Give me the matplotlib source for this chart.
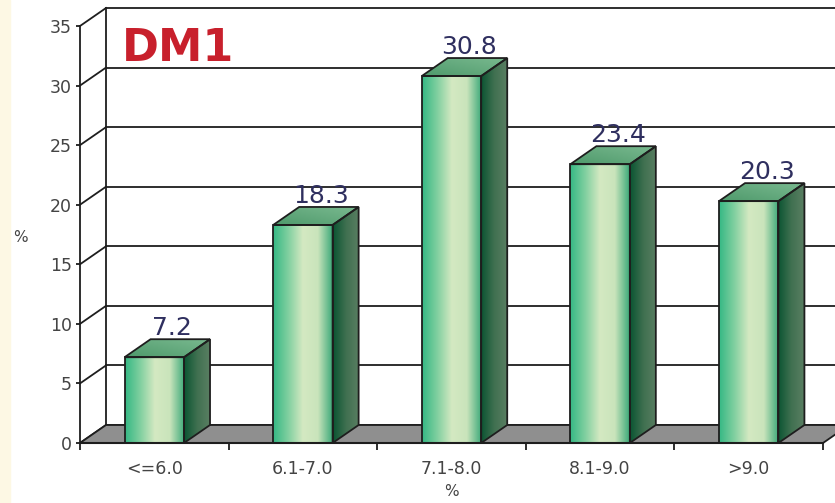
import matplotlib.pyplot as plt
import numpy as np
from matplotlib.colors import LinearSegmentedColormap
from matplotlib.patches import Polygon, Rectangle

categories = ["<=6.0", "6.1-7.0", "7.1-8.0", "8.1-9.0", ">9.0"]
values = [7.2, 18.3, 30.8, 23.4, 20.3]
yticks = [0, 5, 10, 15, 20, 25, 30, 35]
title = "DM1"

W, H = 835, 503
fig = plt.figure(figsize=(W / 100, H / 100), dpi=100)
fig.patch.set_facecolor("white")
fig.patches.append(Rectangle((0, 0), 10 / W, 1, transform=fig.transFigure,
                             color="#fdf8e4", zorder=0))

ax = fig.add_axes([80 / W, (H - 443) / H, (823 - 80) / W, (443 - 26) / H])
ax.patch.set_visible(False)
for s in ax.spines.values():
    s.set_visible(False)

# depth of the fake 3d, in data units (26 px right, 18 px up)
dxd = 26 / ((823 - 80) / 5)
dyd = 18 / ((443 - 26) / 35)
xmin, xmax = -0.5, len(categories) - 0.5
ymax = yticks[-1]
line_c = "#1e1e1e"

# back wall + grid
ax.add_patch(Polygon([(xmin + dxd, dyd), (xmax + 1, dyd), (xmax + 1, ymax + dyd),
                      (xmin + dxd, ymax + dyd)], closed=True, facecolor="white",
                     edgecolor="none", zorder=0, clip_on=False))
for v in yticks:
    ax.plot([xmin + dxd, xmax + 1], [v + dyd, v + dyd], color=line_c, lw=1.3,
            zorder=1, clip_on=False)
    ax.plot([xmin, xmin + dxd], [v, v + dyd], color=line_c, lw=1.3, zorder=1,
            clip_on=False)
ax.plot([xmin + dxd, xmin + dxd], [dyd, ymax + dyd], color=line_c, lw=1.3,
        zorder=1, clip_on=False)
ax.plot([xmin, xmin], [0, ymax], color=line_c, lw=1.3, zorder=6, clip_on=False)

# floor
ax.add_patch(Polygon([(xmin, 0), (xmax, 0), (xmax + dxd, dyd), (xmin + dxd, dyd)],
                     closed=True, facecolor="#8f8f8f", edgecolor=line_c, lw=1.3,
                     zorder=2, clip_on=False))
ax.plot([xmin, xmax], [0, 0], color=line_c, lw=1.5, zorder=6, clip_on=False)

front_cmap = LinearSegmentedColormap.from_list(
    "front", ["#35b884", "#7fcf9f", "#d4e9c2", "#c9e4bb", "#3aa878"])
side_cmap = LinearSegmentedColormap.from_list("side", ["#0a5432", "#3f7050", "#5a7e62"])
top_cmap = LinearSegmentedColormap.from_list("top", ["#4f9a6c", "#79b98f"])
grad = np.linspace(0, 1, 256).reshape(1, -1)
grad_top = np.add.outer(np.linspace(0, 1, 32), np.linspace(0, 1, 64)) / 2

bw = 0.4
for i, v in enumerate(values):
    x0, x1 = i - bw / 2, i + bw / 2
    ax.imshow(grad, extent=[x0, x1, 0, v], aspect="auto", cmap=front_cmap,
              zorder=3, interpolation="bilinear")
    ax.add_patch(Rectangle((x0, 0), bw, v, facecolor="none", edgecolor=line_c,
                           lw=1.3, zorder=4))
    side = Polygon([(x1, 0), (x1 + dxd, dyd), (x1 + dxd, v + dyd), (x1, v)],
                   closed=True, facecolor="none", edgecolor=line_c, lw=1.3, zorder=4)
    ax.add_patch(side)
    im = ax.imshow(grad, extent=[x1, x1 + dxd, 0, v + dyd], aspect="auto",
                   cmap=side_cmap, zorder=3, interpolation="bilinear")
    im.set_clip_path(side)
    top = Polygon([(x0, v), (x1, v), (x1 + dxd, v + dyd), (x0 + dxd, v + dyd)],
                  closed=True, facecolor="none", edgecolor=line_c, lw=1.3, zorder=4)
    ax.add_patch(top)
    im = ax.imshow(grad_top, extent=[x0, x1 + dxd, v, v + dyd], aspect="auto",
                   cmap=top_cmap, zorder=3, interpolation="bilinear", origin="lower")
    im.set_clip_path(top)
    ax.text(i + 0.12, v + dyd + 0.35, f"{v}", ha="center", va="baseline",
            fontsize=18, color="#2f2f5f", zorder=7)

ax.set_xlim(xmin, xmax)
ax.set_ylim(0, ymax)
ax.set_xticks(range(len(categories)), categories)
ax.set_xticks(np.arange(xmin, xmax + 0.01, 1), minor=True)
ax.tick_params(axis="x", which="major", length=0, pad=12, labelsize=12.5,
               labelcolor="#444444")
ax.tick_params(axis="x", which="minor", length=5, width=1.3, color=line_c)
ax.set_yticks(yticks)
ax.tick_params(axis="y", length=3, width=1.3, color=line_c, pad=3, labelsize=12.5,
               labelcolor="#444444")

fig.text(20 / W, 1 - 238 / H, "%", ha="center", va="center", fontsize=11,
         color="#444444")
fig.text(451 / W, 1 - 492 / H, "%", ha="center", va="center", fontsize=11,
         color="#444444")
fig.text(122 / W, 1 - 61 / H, title, ha="left", va="baseline", fontsize=32,
         fontweight="bold", color="#c8202c")

fig.savefig("out.png", dpi=100)
